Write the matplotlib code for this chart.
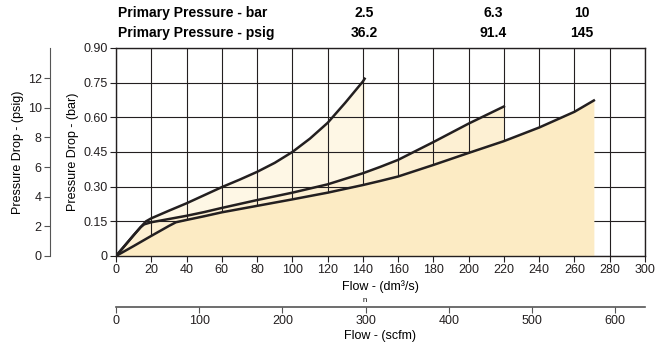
import numpy as np
import matplotlib.pyplot as plt

plt.rcParams['font.family'] = ['Liberation Sans', 'DejaVu Sans']

# data (flow dm3/s, pressure drop bar)
flow_25 = [0, 5, 10, 14, 17, 20, 30, 40, 50, 60, 70, 80, 90, 100, 110, 120, 130, 140, 141]
dp_25 = [0, 0.045, 0.09, 0.125, 0.15, 0.163, 0.196, 0.228, 0.263, 0.298, 0.33, 0.364, 0.403,
         0.45, 0.508, 0.576, 0.663, 0.755, 0.767]

flow_63 = [0, 5, 10, 14, 16, 20, 30, 40, 50, 60, 80, 100, 120, 140, 150, 160, 180, 200, 220]
dp_63 = [0, 0.045, 0.09, 0.125, 0.137, 0.146, 0.16, 0.174, 0.19, 0.208, 0.242, 0.274, 0.31,
         0.358, 0.386, 0.416, 0.493, 0.573, 0.647]

flow_10 = [0, 10, 20, 30, 34, 40, 50, 60, 80, 100, 120, 140, 150, 160, 180, 200, 220, 240, 260, 271]
dp_10 = [0, 0.043, 0.087, 0.13, 0.146, 0.156, 0.172, 0.189, 0.217, 0.245, 0.274, 0.307, 0.325,
         0.344, 0.394, 0.446, 0.497, 0.556, 0.624, 0.673]

fill_colors = ['#fef7e5', '#fdf0d3', '#fcebc4']

bar_ticks = [0, 0.15, 0.30, 0.45, 0.60, 0.75, 0.90]
bar_labels = ['0', '0.15', '0.30', '0.45', '0.60', '0.75', '0.90']
psig_ticks = [0, 2, 4, 6, 8, 10, 12]
flow_ticks = list(range(0, 301, 20))
scfm_ticks = list(range(0, 601, 100))

header_bar = ['2.5', '6.3', '10']
header_psig = ['36.2', '91.4', '145']
header_x = [364, 493, 582]

W, H = 669, 348
fig = plt.figure(figsize=(W / 100, H / 100), dpi=100)

left, right = 116 / W, 645 / W
bottom, top = 1 - 256 / H, 1 - 48 / H
ax = fig.add_axes([left, bottom, right - left, top - bottom])

# fills, lightest first
ax.fill_between(flow_25, dp_25, color=fill_colors[0], lw=0, zorder=1)
ax.fill_between(flow_63, dp_63, color=fill_colors[1], lw=0, zorder=2)
ax.fill_between(flow_10, dp_10, color=fill_colors[2], lw=0, zorder=3)

for f, d in [(flow_25, dp_25), (flow_63, dp_63), (flow_10, dp_10)]:
    ax.plot(f, d, color='#231f20', lw=1.8, zorder=5, solid_joinstyle='round')

ax.set_xlim(0, 300)
ax.set_ylim(0, 0.9)
ax.set_xticks(flow_ticks)
ax.set_yticks(bar_ticks)
ax.set_yticklabels(bar_labels)
ax.grid(True, color='#231f20', lw=0.8, zorder=4)
ax.set_axisbelow(False)
for s in ax.spines.values():
    s.set_color('#231f20')
    s.set_linewidth(1.0)
    s.set_zorder(6)
ax.tick_params(direction='out', length=4, width=0.8, labelsize=9, colors='#231f20', pad=2)
ax.set_xlabel('Flow - (dm\u00b3/s)', fontsize=9, labelpad=3)
ax.set_ylabel('Pressure Drop - (bar)', fontsize=9, labelpad=3)
fig.text(365 / W, 1 - 301 / H, 'n', fontsize=5.5, ha='center', va='center')

# psig axis on the far left
axp = fig.add_axes([50 / W, bottom, 0.001, top - bottom])
axp.set_ylim(0, 14.03)
axp.set_yticks(psig_ticks)
axp.set_xticks([])
for k in ['top', 'right', 'bottom']:
    axp.spines[k].set_visible(False)
axp.spines['left'].set_color('#555555')
axp.patch.set_visible(False)
axp.tick_params(axis='y', direction='out', length=4, width=0.8, labelsize=9, colors='#555555',
                labelcolor='#231f20', pad=2)
axp.set_ylabel('Pressure Drop - (psig)', fontsize=9, labelpad=3)

# scfm axis below
axs = fig.add_axes([left, 1 - 307 / H, right - left, 0.001])
axs.set_xlim(0, 300 * 2.119)
axs.set_xticks(scfm_ticks)
axs.set_yticks([])
for k in ['top', 'right', 'left']:
    axs.spines[k].set_visible(False)
axs.spines['bottom'].set_color('#555555')
axs.spines['bottom'].set_linewidth(1.2)
axs.patch.set_visible(False)
axs.tick_params(axis='x', direction='out', length=4, width=0.8, labelsize=9, colors='#555555',
                labelcolor='#231f20', pad=2)
axs.set_xlabel('Flow - (scfm)', fontsize=9, labelpad=2)

# header table
fig.text(118 / W, 1 - 13 / H, 'Primary Pressure - bar', fontsize=10, fontweight='bold', va='center')
fig.text(118 / W, 1 - 33 / H, 'Primary Pressure - psig', fontsize=10, fontweight='bold', va='center')
for x, b, p in zip(header_x, header_bar, header_psig):
    fig.text(x / W, 1 - 13 / H, b, fontsize=10, fontweight='bold', ha='center', va='center')
    fig.text(x / W, 1 - 33 / H, p, fontsize=10, fontweight='bold', ha='center', va='center')

fig.savefig('out.png', dpi=100)
